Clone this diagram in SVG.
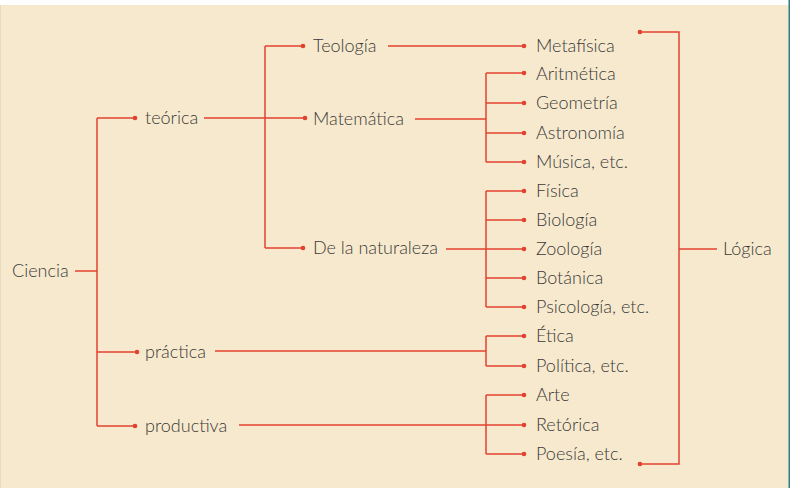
<svg xmlns="http://www.w3.org/2000/svg" width="791" height="488" viewBox="0 0 791 488">
<defs>
<style>
.t{font-family:Lato,"Open Sans","Liberation Sans",sans-serif;font-size:18px;font-weight:300;fill:#3a3a3a}
.c{fill:none;stroke:#E2412F;stroke-width:1.5}
.d{fill:#E2412F}
</style>
</defs>
<rect x="0" y="0" width="791" height="488" fill="#ffffff"/>
<rect x="0" y="5" width="789" height="483" fill="#F7E9CD"/>
<rect x="0" y="5" width="1" height="483" fill="#E8DCC0"/>
<rect x="788.5" y="0" width="1.5" height="488" fill="#2E7E86"/>
<g id="connectors">
<path class="c" d="M75 271H97M97 118V426M97 118H135M97 352H137M97 426H135"/>
<path class="c" d="M204 118H305M265 46V248M265 46H303M265 248H303"/>
<path class="c" d="M388 46H524"/>
<path class="c" d="M415 119H486M486 73V162M486 73H524M486 103H524M486 133H524M486 162H524"/>
<path class="c" d="M446 249H486M486 191V307M486 191H524M486 220H524M486 249H524M486 278H524M486 307H524"/>
<path class="c" d="M215 351H486M486 336V366M486 336H524M486 366H524"/>
<path class="c" d="M239 425H524M486 395V454M486 395H524M486 454H524"/>
<path class="c" d="M640 32H679V464H640M679 249H717"/>
<g class="d">
<circle cx="135" cy="118" r="2.3"/><circle cx="137" cy="352" r="2.3"/><circle cx="135" cy="426" r="2.3"/>
<circle cx="303" cy="46" r="2.3"/><circle cx="305" cy="118" r="2.3"/><circle cx="303" cy="248" r="2.3"/>
<circle cx="524" cy="46" r="2.3"/><circle cx="524" cy="73" r="2.3"/><circle cx="524" cy="103" r="2.3"/><circle cx="524" cy="133" r="2.3"/><circle cx="524" cy="162" r="2.3"/>
<circle cx="524" cy="191" r="2.3"/><circle cx="524" cy="220" r="2.3"/><circle cx="524" cy="249" r="2.3"/><circle cx="524" cy="278" r="2.3"/><circle cx="524" cy="307" r="2.3"/>
<circle cx="524" cy="336" r="2.3"/><circle cx="524" cy="366" r="2.3"/>
<circle cx="524" cy="395" r="2.3"/><circle cx="524" cy="425" r="2.3"/><circle cx="524" cy="454" r="2.3"/>
<circle cx="640" cy="32" r="2.3"/><circle cx="640" cy="464" r="2.3"/>
</g>
</g>
<g id="ciencia"><text class="t" x="12" y="277">Ciencia</text></g>
<g id="teorica"><text class="t" x="145" y="124">teórica</text></g>
<g id="practica"><text class="t" x="145" y="358">práctica</text></g>
<g id="productiva"><text class="t" x="145" y="432">productiva</text></g>
<g id="teologia"><text class="t" x="313" y="52">Teología</text></g>
<g id="matematica"><text class="t" x="313" y="125">Matemática</text></g>
<g id="naturaleza"><text class="t" x="313" y="254">De la naturaleza</text></g>
<g id="metafisica"><text class="t" x="536" y="52">Metafísica</text></g>
<g id="aritmetica"><text class="t" x="536" y="80">Aritmética</text></g>
<g id="geometria"><text class="t" x="536" y="109">Geometría</text></g>
<g id="astronomia"><text class="t" x="536" y="139">Astronomía</text></g>
<g id="musica"><text class="t" x="536" y="168">Música, etc.</text></g>
<g id="fisica"><text class="t" x="536" y="197">Física</text></g>
<g id="biologia"><text class="t" x="536" y="226">Biología</text></g>
<g id="zoologia"><text class="t" x="536" y="255">Zoología</text></g>
<g id="botanica"><text class="t" x="536" y="284">Botánica</text></g>
<g id="psicologia"><text class="t" x="536" y="313">Psicología, etc.</text></g>
<g id="etica"><text class="t" x="536" y="342">Ética</text></g>
<g id="politica"><text class="t" x="536" y="372">Política, etc.</text></g>
<g id="arte"><text class="t" x="536" y="401">Arte</text></g>
<g id="retorica"><text class="t" x="536" y="431">Retórica</text></g>
<g id="poesia"><text class="t" x="536" y="460">Poesía, etc.</text></g>
<g id="logica"><text class="t" x="723" y="255">Lógica</text></g>
</svg>
